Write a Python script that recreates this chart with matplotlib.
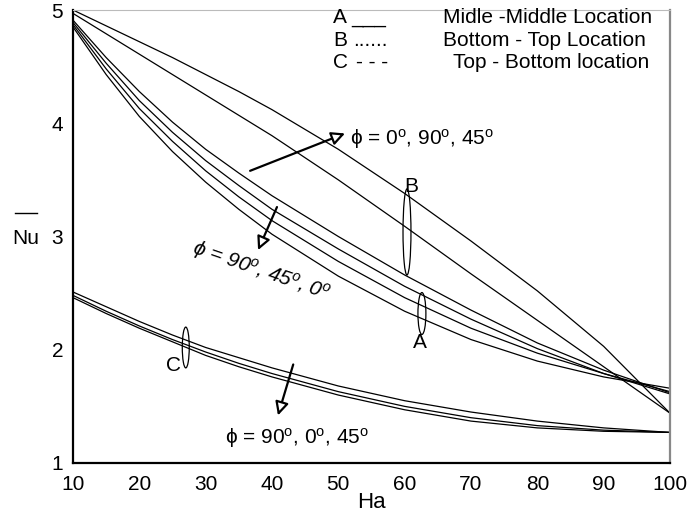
import matplotlib
matplotlib.use("Agg")
import matplotlib.pyplot as plt
from matplotlib.patches import Ellipse
from matplotlib.lines import Line2D

plt.rcParams['font.family'] = ['Liberation Sans', 'DejaVu Sans']
plt.rcParams['mathtext.fontset'] = 'custom'
plt.rcParams['mathtext.rm'] = 'Liberation Sans'
plt.rcParams['mathtext.it'] = 'Liberation Sans:italic'
plt.rcParams['mathtext.fallback'] = 'stixsans'

# ---- data ----
ha = [10, 15, 20, 25, 30, 35, 40, 50, 60, 70, 80, 90, 100]

# B : Bottom - Top location
nu_b1 = [5.00, 4.86, 4.72, 4.58, 4.43, 4.28, 4.12, 3.77, 3.38, 2.96, 2.52, 2.03, 1.44]
nu_b2 = [4.97, 4.79, 4.61, 4.43, 4.25, 4.07, 3.89, 3.50, 3.09, 2.67, 2.26, 1.85, 1.44]
nu_b3 = [4.91, 4.58, 4.28, 4.01, 3.77, 3.56, 3.36, 3.00, 2.66, 2.35, 2.06, 1.82, 1.62]

# A : Middle - Middle location
nu_a1 = [4.89, 4.53, 4.20, 3.92, 3.67, 3.45, 3.24, 2.89, 2.56, 2.27, 2.01, 1.79, 1.61]
nu_a2 = [4.87, 4.48, 4.13, 3.84, 3.58, 3.35, 3.14, 2.78, 2.46, 2.19, 1.97, 1.79, 1.63]
nu_a3 = [4.85, 4.43, 4.06, 3.75, 3.48, 3.24, 3.02, 2.65, 2.34, 2.09, 1.90, 1.76, 1.66]

# C : Top - Bottom location
nu_c1 = [2.51, 2.38, 2.25, 2.13, 2.02, 1.93, 1.84, 1.68, 1.55, 1.45, 1.37, 1.31, 1.27]
nu_c2 = [2.48, 2.34, 2.21, 2.09, 1.98, 1.88, 1.79, 1.63, 1.50, 1.40, 1.33, 1.29, 1.27]
nu_c3 = [2.46, 2.32, 2.19, 2.07, 1.95, 1.85, 1.76, 1.60, 1.47, 1.37, 1.31, 1.28, 1.27]

xticks = [10, 20, 30, 40, 50, 60, 70, 80, 90, 100]
yticks = [1, 2, 3, 4, 5]

series = [nu_b1, nu_b2, nu_b3, nu_a1, nu_a2, nu_a3, nu_c1, nu_c2, nu_c3]

fig = plt.figure(figsize=(6.91, 5.17), dpi=100)
ax = fig.add_axes([73/691, 1-463/517, (670-73)/691, (463-10)/517])

for s in series:
    ax.plot(ha, s, color='black', lw=0.9)

ax.set_xlim(10, 100)
ax.set_ylim(1, 5)
ax.set_xticks(xticks)
ax.set_yticks(yticks)
ax.tick_params(length=0, labelsize=15)
ax.tick_params(axis='x', pad=9)
ax.tick_params(axis='y', pad=7)

for side in ['left', 'bottom']:
    ax.spines[side].set_linewidth(1.6)
    ax.spines[side].set_color('black')
ax.spines['right'].set_color('#888888')
ax.spines['right'].set_linewidth(1.6)
ax.spines['top'].set_color('#bbbbbb')
ax.spines['top'].set_linewidth(0.8)

ax.set_xlabel('Ha', fontsize=16, labelpad=-2)

# y label Nu with overline
fig.text(26/691, 1-238/517, 'Nu', fontsize=15, ha='center', va='center')
fig.add_artist(Line2D([15/691, 37/691], [1-213/517, 1-213/517], color='black', lw=1))

# legend-like text
fs = 15
ax.text(50.3, 4.93, 'A', fontsize=fs, ha='center', va='center')
ax.text(51.9, 4.93, '___', fontsize=fs, ha='left', va='center')
ax.text(65.8, 4.93, 'Midle -Middle Location', fontsize=fs, ha='left', va='center')
ax.text(50.3, 4.735, 'B', fontsize=fs, ha='center', va='center')
ax.text(52.3, 4.735, '......', fontsize=fs, ha='left', va='center')
ax.text(65.8, 4.735, 'Bottom - Top Location', fontsize=fs, ha='left', va='center')
ax.text(50.3, 4.54, 'C', fontsize=fs, ha='center', va='center')
ax.text(52.6, 4.54, '- - -', fontsize=fs, ha='left', va='center')
ax.text(67.3, 4.54, 'Top - Bottom location', fontsize=fs, ha='left', va='center')

arrow = dict(arrowstyle='-|>', fc='white', ec='black', lw=1.6, mutation_scale=20,
             shrinkA=0, shrinkB=0)

# upper annotation (B group)
ax.annotate('', xy=(51.0, 3.91), xytext=(36.7, 3.58), arrowprops=arrow)
ax.text(51.8, 3.86, 'ϕ = 0$^{\\rm o}$, 90$^{\\rm o}$, 45$^{\\rm o}$', fontsize=15,
        ha='left', va='center')

# middle annotation (A group)
ax.annotate('', xy=(37.9, 2.88), xytext=(40.75, 3.26), arrowprops=arrow)
ax.text(38.4, 2.69, r'$\phi$ = 90$^{o}$, 45$^{o}$, 0$^{o}$', fontsize=15,
        ha='center', va='center', rotation=-19, style='italic')

# lower annotation (C group)
ax.annotate('', xy=(40.9, 1.42), xytext=(43.2, 1.87), arrowprops=arrow)
ax.text(43.8, 1.22, 'ϕ = 90$^{\\rm o}$, 0$^{\\rm o}$, 45$^{\\rm o}$', fontsize=15,
        ha='center', va='center')

# group ellipses and labels
ax.add_patch(Ellipse((60.35, 3.04), 1.2, 0.76, fill=False, ec='black', lw=0.9))
ax.text(61.0, 3.44, 'B', fontsize=15, ha='center', va='center')
ax.add_patch(Ellipse((62.6, 2.32), 1.2, 0.37, fill=False, ec='black', lw=0.9))
ax.text(62.3, 2.06, 'A', fontsize=15, ha='center', va='center')
ax.add_patch(Ellipse((27.0, 2.02), 1.05, 0.36, fill=False, ec='black', lw=0.9))
ax.text(25.1, 1.86, 'C', fontsize=15, ha='center', va='center')

fig.savefig('out.png', dpi=100)
